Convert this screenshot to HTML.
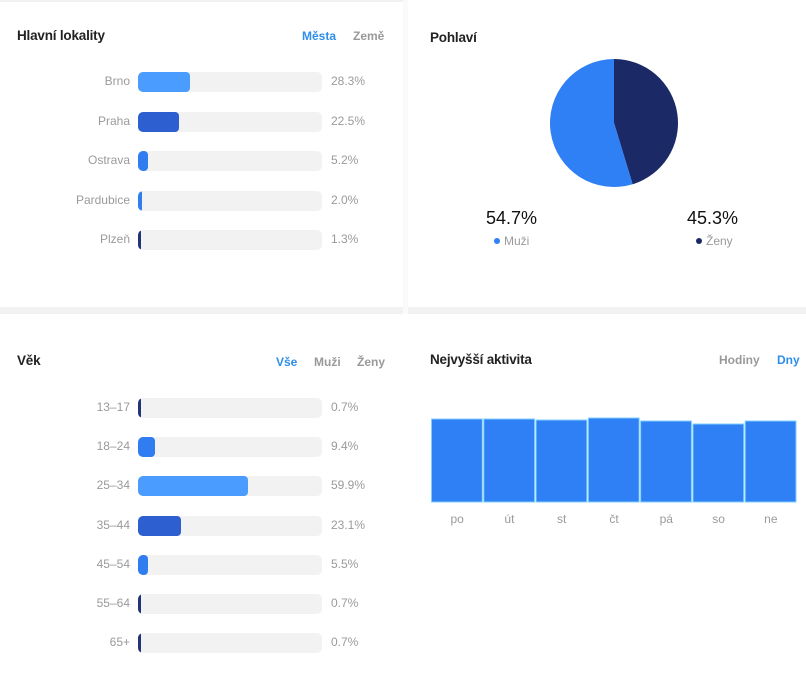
<!DOCTYPE html>
<html><head><meta charset="utf-8"><style>
body{margin:0;width:806px;height:673px;background:#fff;position:relative;overflow:hidden;font-family:"Liberation Sans",sans-serif}
.t{position:absolute;font-size:13.5px;color:#222;font-weight:bold;letter-spacing:-0.2px}
.tab{position:absolute;font-size:12px;color:#999;font-weight:bold}
.tab.on{color:#2f8fe8}
.lbl{position:absolute;font-size:12px;color:#9a9a9a;text-align:right;width:110px}
.val{position:absolute;font-size:12px;color:#9a9a9a}
.track{position:absolute;height:20px;background:#f2f2f2;border-radius:5px;overflow:hidden}
.fill{position:absolute;left:0;top:0;bottom:0;border-radius:4px}
.sep{position:absolute;background:#f2f2f2}
</style></head><body>
<div class="sep" style="left:0;top:0;width:403px;height:2px"></div>
<div class="sep" style="left:0;top:307px;width:806px;height:7px"></div>
<div class="sep" style="left:403px;top:0;width:5px;height:314px;background:#fafafa"></div>

<div class="t" style="left:17px;top:28px">Hlavní lokality</div>
<div class="tab on" style="left:302px;top:29px">Města</div>
<div class="tab" style="left:353px;top:29px">Země</div>
<div id="loc"></div>

<div class="t" style="left:430px;top:30px">Pohlaví</div>
<svg style="position:absolute;left:0;top:0" width="806" height="300" id="pie"></svg>
<div style="position:absolute;left:486px;top:208px;font-size:18px;color:#111">54.7%</div>
<div style="position:absolute;left:494px;top:234px;font-size:12px;color:#9a9a9a"><span style="display:inline-block;width:6px;height:6px;border-radius:50%;background:#2f7ff5;margin-right:4px;vertical-align:1px"></span>Muži</div>
<div style="position:absolute;left:687px;top:208px;font-size:18px;color:#111">45.3%</div>
<div style="position:absolute;left:696px;top:234px;font-size:12px;color:#9a9a9a"><span style="display:inline-block;width:6px;height:6px;border-radius:50%;background:#1b2a66;margin-right:4px;vertical-align:1px"></span>Ženy</div>

<div class="t" style="left:17px;top:353px">Věk</div>
<div class="tab on" style="left:276px;top:355px">Vše</div>
<div class="tab" style="left:314px;top:355px">Muži</div>
<div class="tab" style="left:357px;top:355px">Ženy</div>
<div id="age"></div>

<div class="t" style="left:430px;top:352px">Nejvyšší aktivita</div>
<div class="tab" style="left:719px;top:353px">Hodiny</div>
<div class="tab on" style="left:777px;top:353px">Dny</div>
<svg id="act" style="position:absolute;left:0;top:380px" width="806" height="160"></svg>

<script>
const locNames=["Brno","Praha","Ostrava","Pardubice","Plzeň"];
const locValues=[28.3,22.5,5.2,2.0,1.3];
const locColors=["#4a9cff","#2d5fd0","#2f7df0","#2f7df0","#1f3575"];
const ageNames=["13–17","18–24","25–34","35–44","45–54","55–64","65+"];
const ageValues=[0.7,9.4,59.9,23.1,5.5,0.7,0.7];
const ageColors=["#1f3575","#2f7df0","#4a9cff","#2d5fd0","#2f7df0","#1f3575","#1f3575"];
const genderNames=["Ženy","Muži"];
const genderValues=[45.3,54.7];
const dayNames=["po","út","st","čt","pá","so","ne"];
const dayValues=[83,83,82,84,81,78,81];

function bars(id,names,vals,colors,y0,step){
  const c=document.getElementById(id);
  const x0=138,w=184;
  names.forEach((n,i)=>{
    const y=y0+i*step;
    const l=document.createElement('div');l.className='lbl';
    
    
    l.style.left=(x0-8-110)+'px';l.style.top=(y-8)+'px';l.textContent=n;c.appendChild(l);
    const t=document.createElement('div');t.className='track';
    
    
    t.style.left=x0+'px';t.style.top=(y-10)+'px';t.style.width=w+'px';
    const f=document.createElement('div');f.className='fill';
    
    
    f.style.width=Math.max(2.5,vals[i]/100*w)+'px';f.style.background=colors[i];
    t.appendChild(f);c.appendChild(t);
    const v=document.createElement('div');v.className='val';
    
    
    v.style.left='331px';v.style.top=(y-8)+'px';v.textContent=vals[i].toFixed(1)+'%';c.appendChild(v);
  });
}
bars('loc',locNames,locValues,locColors,82,39.5);
bars('age',ageNames,ageValues,ageColors,408,39.2);

const NS='http://www.w3.org/2000/svg';
(function(){
  const svg=document.getElementById('pie');
  const cx=614,cy=123,r=64,cols=["#1b2a66","#2f7ff5"];
  const tot=genderValues.reduce((a,b)=>a+b,0);let a0=0;
  genderValues.forEach((v,i)=>{
    const a1=a0+v/tot*2*Math.PI;
    const p=document.createElementNS(NS,'path');
    const x0=cx+r*Math.sin(a0),y0=cy-r*Math.cos(a0),x1=cx+r*Math.sin(a1),y1=cy-r*Math.cos(a1);
    p.setAttribute('d',`M${cx},${cy}L${x0},${y0}A${r},${r} 0 ${a1-a0>Math.PI?1:0} 1 ${x1},${y1}Z`);
    p.setAttribute('fill',cols[i]);
    
    
    svg.appendChild(p);a0=a1;
  });
})();

(function(){
  const svg=document.getElementById('act');
  const x0=431,x1=797,base=122,scale=1.0;
  const bw=(x1-x0)/dayNames.length;
  dayNames.forEach((d,i)=>{
    const h=dayValues[i]*scale;
    const r=document.createElementNS(NS,'rect');
    r.setAttribute('x',x0+i*bw+0.5);r.setAttribute('y',base-h);
    r.setAttribute('width',bw-1.5);r.setAttribute('height',h);
    r.setAttribute('fill','#2f7ff5');r.setAttribute('stroke','#7fd0ff');r.setAttribute('stroke-width','1');
    
    
    svg.appendChild(r);
    const t=document.createElementNS(NS,'text');
    t.setAttribute('x',x0+i*bw+bw/2);t.setAttribute('y',base+21);
    t.setAttribute('text-anchor','middle');t.setAttribute('font-size','12');t.setAttribute('fill','#9a9a9a');
    t.setAttribute('font-family','Liberation Sans, sans-serif');
    
    
    t.textContent=d;svg.appendChild(t);
  });
})();
</script>
</body></html>
